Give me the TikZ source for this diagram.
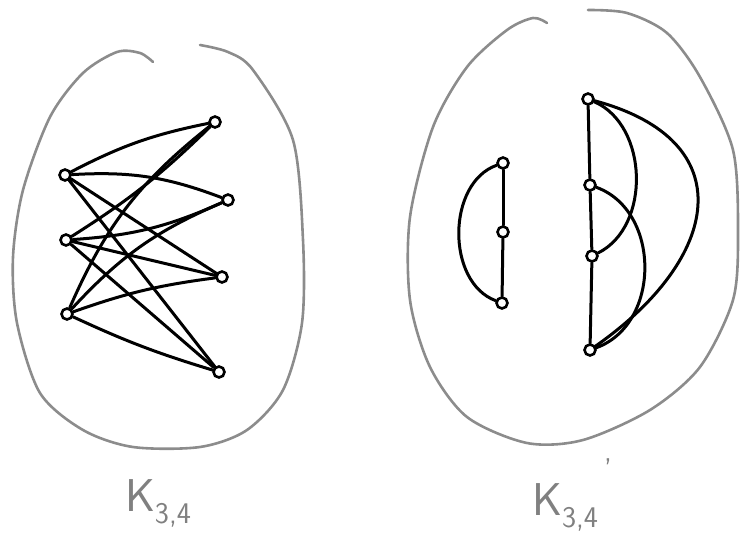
\documentclass[tikz,border=0pt]{standalone}
\tikzset{
  vtx/.style={draw, circle, line width=2.6pt, inner sep=0pt, minimum size=11pt},
  edge/.style={line width=3pt, line cap=round},
  hull/.style={draw=black!45, line width=2.6pt, line cap=round},
  lbl/.style={text=black!50, font=\sffamily\fontsize{46}{50}\selectfont}
}
\begin{document}
\begin{tikzpicture}[x=1pt, y=-1pt]
    \useasboundingbox (0,0) rectangle (740,533);
    % K_{3,4}
    \draw[hull] plot[smooth] coordinates {(153,62) (140,53) (117,52) (83,73) (50,117) (23,190) (13,257) (17,323) (40,393) (83,430) (133,447) (200,447) (247,430) (283,390) (302,323) (303,240) (293,140) (253,70) (228,52) (200,45)};
    \node[vtx] (a1) at (65,175) {};
    \node[vtx] (a2) at (66,240) {};
    \node[vtx] (a3) at (67,314) {};
    \node[vtx] (b1) at (215,122) {};
    \node[vtx] (b2) at (228,200) {};
    \node[vtx] (b3) at (222,277) {};
    \node[vtx] (b4) at (219,372) {};
    \draw[edge] (a1) to[bend left=8] (b1);
    \draw[edge] (a1) to[bend left=12] (b2);
    \draw[edge] (a1) -- (b3);
    \draw[edge] (a1) -- (b4);
    \draw[edge] (a2) to[bend right=6] (b1);
    \draw[edge] (a2) to[bend right=10] (b2);
    \draw[edge] (a2) -- (b3);
    \draw[edge] (a2) -- (b4);
    \draw[edge] (a3) to[bend left=14] (b1);
    \draw[edge] (a3) to[bend left=12] (b2);
    \draw[edge] (a3) to[bend left=6] (b3);
    \draw[edge] (a3) to[bend right=4] (b4);
    \node[lbl] (k1) at (158,503) {K\raisebox{-12pt}{\fontsize{30}{34}\selectfont 3,4}};
    % complement
    \draw[hull] plot[smooth] coordinates {(547,23) (533,18) (507,30) (467,67) (433,127) (410,217) (410,300) (430,367) (467,417) (527,443) (583,440) (650,410) (700,367) (733,300) (738,233) (733,150) (700,77) (667,33) (627,13) (588,10)};
    \node[vtx] (c1) at (503,163) {};
    \node[vtx] (c2) at (503,232) {};
    \node[vtx] (c3) at (502,303) {};
    \draw[edge] (c1) -- (c2);
    \draw[edge] (c2) -- (c3);
    \draw[edge] (c1) to[bend right=70] (c3);
    \node[vtx] (d1) at (588,99) {};
    \node[vtx] (d2) at (590,185) {};
    \node[vtx] (d3) at (592,256) {};
    \node[vtx] (d4) at (590,350) {};
    \draw[edge] (d1) -- (d2);
    \draw[edge] (d2) -- (d3);
    \draw[edge] (d3) -- (d4);
    \draw[edge] (d1) to[bend left=65] (d3);
    \draw[edge] (d2) to[bend left=70, looseness=1.1] (d4);
    \draw[edge] (d1) to[out=-15, in=35, looseness=1.6] (d4);
    \node[lbl] (k2) at (572,495) {K\raisebox{-12pt}{\fontsize{30}{34}\selectfont 3,4}\kern6pt\raisebox{36pt}{\fontsize{30}{34}\selectfont '}};
\end{tikzpicture}
\end{document}
